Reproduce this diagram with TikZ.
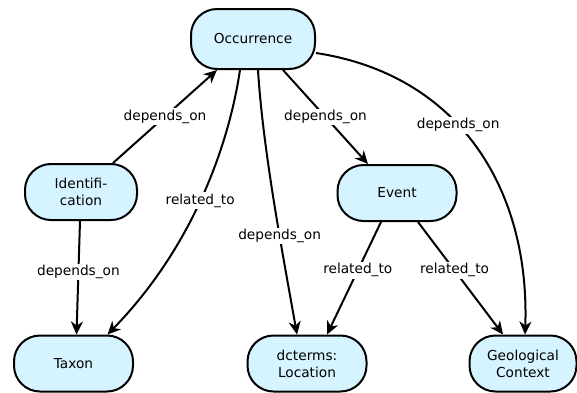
\documentclass[tikz,border=0pt]{standalone}
\usepackage{fontspec}
\setmainfont{DejaVu Sans}
\usetikzlibrary{arrows.meta}
\definecolor{clsfill}{RGB}{214,244,255}
\newcommand{\dotfont}{\fontsize{13.7}{17}\selectfont}

\begin{document}
\begin{tikzpicture}[x=1pt,y=-1pt,font=\dotfont,
	cls/.style={draw,line width=2pt,fill=clsfill,rounded corners=26pt,minimum width=119pt,minimum height=56pt,align=center,inner sep=2pt},
	rel/.style={line width=2pt,-{Stealth[length=13pt,width=12pt,inset=4pt]}},
	lbl/.style={fill=white,inner sep=1.5pt}]
			\useasboundingbox (0,0) rectangle (577,392);
			
			\node[cls,minimum width=124pt,minimum height=60pt] (occ) at (253,39) {Occurrence};
			\node[cls,minimum width=112pt] (ident) at (81,192) {Identifi-\\cation};
			\node[cls] (event) at (397,193) {Event};
			
			\node[cls] (taxon) at (73.5,363.5) {Taxon};
			\node[cls] (loc) at (307,363.5) {dcterms:\\Location};
			\node[cls,minimum width=107pt] (geo) at (523,363.5) {Geological\\Context};
			
			\draw[rel] ([xshift=32pt]ident.north) -- node[lbl] {depends\_on} ([xshift=-36pt]occ.south);
			\draw[rel] ([xshift=-13pt]occ.south) .. controls (228,150) and (190,250) .. node[lbl,pos=.5] {related\_to} ([xshift=34pt]taxon.north);
			\draw[rel] ([xshift=5pt]occ.south) .. controls (263,150) and (282,250) .. node[lbl,pos=.63] {depends\_on} ([xshift=-10pt]loc.north);
			\draw[rel] ([xshift=30pt]occ.south) -- node[lbl] {depends\_on} ([xshift=-29pt]event.north);
			\draw[rel] ([yshift=-14pt]occ.east) .. controls (460,75) and (530,190) .. node[lbl,pos=.42] {depends\_on} ([xshift=2pt]geo.north);
			
			\draw[rel] ([xshift=-1pt]ident.south) -- node[lbl,pos=.45] {depends\_on} ([xshift=3pt]taxon.north);
			\draw[rel] ([xshift=-16pt]event.south) -- node[lbl,pos=.43] {related\_to} ([xshift=20pt]loc.north);
			\draw[rel] ([xshift=21pt]event.south) -- node[lbl,pos=.43] {related\_to} ([xshift=-20pt]geo.north);
\end{tikzpicture}
\end{document}
